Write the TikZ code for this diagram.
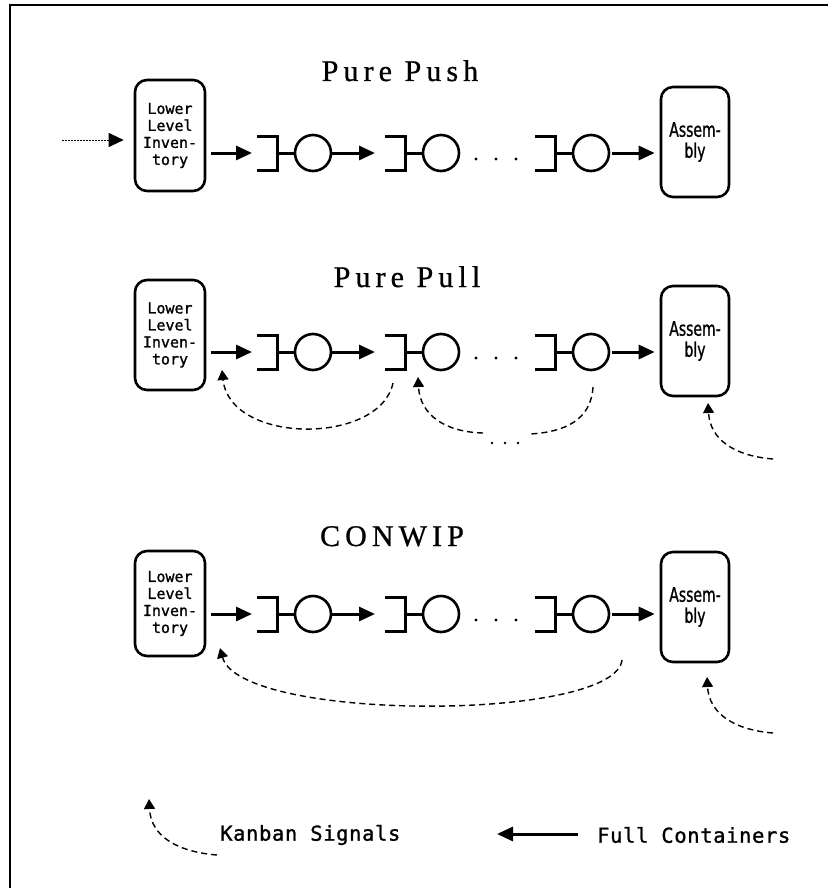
\documentclass[tikz,border=0pt]{standalone}
\usepackage{fontspec}
\setmainfont{Liberation Serif}
\newfontfamily\titlefont[LetterSpace=17,FakeBold=0.8]{Liberation Serif}
\newfontfamily\boxfont[FakeBold=1.2]{DejaVu Sans Mono}
\newfontfamily\legendfont[FakeBold=1.2,LetterSpace=3]{DejaVu Sans Mono}
\newfontfamily\asmfont[FakeStretch=0.7,FakeBold=1]{DejaVu Sans}
\usetikzlibrary{arrows.meta,calc}

\tikzset{
  stageframe/.style={draw, line width=2.6pt, rounded corners=12pt, inner sep=0pt, align=center},
  lowbox/.style={stageframe, minimum width=70pt, font=\boxfont\fontsize{15}{17}\selectfont},
  asmbox/.style={stageframe, minimum width=68pt, minimum height=110pt, font=\asmfont\fontsize{20}{21}\selectfont},
  machine/.style={circle, draw, line width=2.6pt, minimum size=36pt, inner sep=0pt},
  buffer/.style={line width=3pt},
  flow/.style={line width=3pt, -{Triangle[length=16pt,width=14pt]}},
  kanban/.style={line width=1.4pt, dash pattern=on 6pt off 4pt, -{Triangle[length=10pt,width=11pt]}},
  kanbanplain/.style={line width=1.4pt, dash pattern=on 6pt off 4pt},
  heading/.style={font=\titlefont\fontsize{30}{32}\selectfont, anchor=base},
  legend/.style={font=\legendfont\fontsize{20.5}{22}\selectfont, anchor=west, inner sep=0pt},
}

\begin{document}
\begin{tikzpicture}[x=1pt,y=-1pt]
\useasboundingbox (0,0) rectangle (828,888);
% frame (top and left edges)
\draw[line width=2pt] (9.5,888) -- (9.5,5.5) -- (828,5.5);

% headings
\node[heading] (tPush) at (400,81) {Pure Push};
\node[heading] (tPull) at (407,287) {Pure Pull};
\node[heading] (tConwip) at (392,546) {CONWIP};

% the three production lines
\foreach \row/\y/\ly/\lh/\ay in {1/153/135.5/111/142, 2/352/335/110/341, 3/614/603.5/105/607}{
  \node[lowbox, minimum height=\lh pt] (L\row) at (170,\ly) {Lower\\Level\\Inven-\\tory};
  \node[asmbox] (A\row) at (695,\ay) {Assem-\\bly};
  \foreach \k/\bx/\cx in {a/277/313, b/405/441, c/555/591}{
    \coordinate (B\k\row) at (\bx,\y);
    \coordinate (E\k\row) at (\bx-20,\y);
    \node[machine] (M\k\row) at (\cx,\y) {};
    \draw[buffer] (\bx-20,\y-17) -- (\bx,\y-17) -- (\bx,\y+17) -- (\bx-20,\y+17);
    \draw[buffer] (B\k\row) -- (M\k\row);
  }
  \draw[flow, shorten <=5pt, shorten >=5pt] (L\row.east |- Ea\row) -- (Ea\row);
  \draw[flow, shorten >=10pt] (Ma\row) -- (Eb\row);
  \draw[flow, shorten <=2pt, shorten >=5pt] (Mc\row) -- (A\row.west |- Mc\row);
  \foreach \dx in {476,496,516} \fill (\dx,\y+6) circle (1.6pt);
}

% push: raw material input
\coordinate (src) at (62,140);
\draw[line width=1pt, dash pattern=on 1.5pt off 1.5pt, -{Triangle[length=15pt,width=14pt]}, shorten >=10pt] (src) -- (src -| L1.west);

% pull: kanban loops
\coordinate (ka2s) at (393,383); \coordinate (ka2e) at (222,370);
\draw[kanban] (ka2s) .. controls (380,445) and (230,445) .. (ka2e);
\coordinate (kb2s) at (593,387); \coordinate (kb2m) at (530,434);
\coordinate (kb2n) at (483,433); \coordinate (kb2e) at (418,377);
\draw[kanbanplain] (kb2s) .. controls (591,420) and (565,432) .. (kb2m);
\draw[kanban] (kb2n) .. controls (445,432) and (420,415) .. (kb2e);
\foreach \dx in {492,505,518} \fill (\dx,443) circle (1.4pt);
\coordinate (kc2s) at (773,459); \coordinate (kc2e) at (708,403);
\draw[kanban] (kc2s) .. controls (735,456) and (710,440) .. (kc2e);

% conwip: single loop
\coordinate (ka3s) at (622,660); \coordinate (ka3e) at (220,648);
\draw[kanban] (ka3s) .. controls (615,722) and (240,722) .. (ka3e);
\coordinate (kc3s) at (773,733); \coordinate (kc3e) at (707,677);
\draw[kanban] (kc3s) .. controls (735,730) and (709,714) .. (kc3e);

% legend
\coordinate (lgs) at (217,855); \coordinate (lge) at (149,799);
\draw[kanban] (lgs) .. controls (180,852) and (151,838) .. (lge);
\node[legend] (lgk) at (220,835) {Kanban Signals};
\coordinate (lgtail) at (578,834); \coordinate (lgtip) at (497,834);
\draw[flow] (lgtail) -- (lgtip);
\node[legend] (lgf) at (597,835) {Full Containers};
\end{tikzpicture}
\end{document}
